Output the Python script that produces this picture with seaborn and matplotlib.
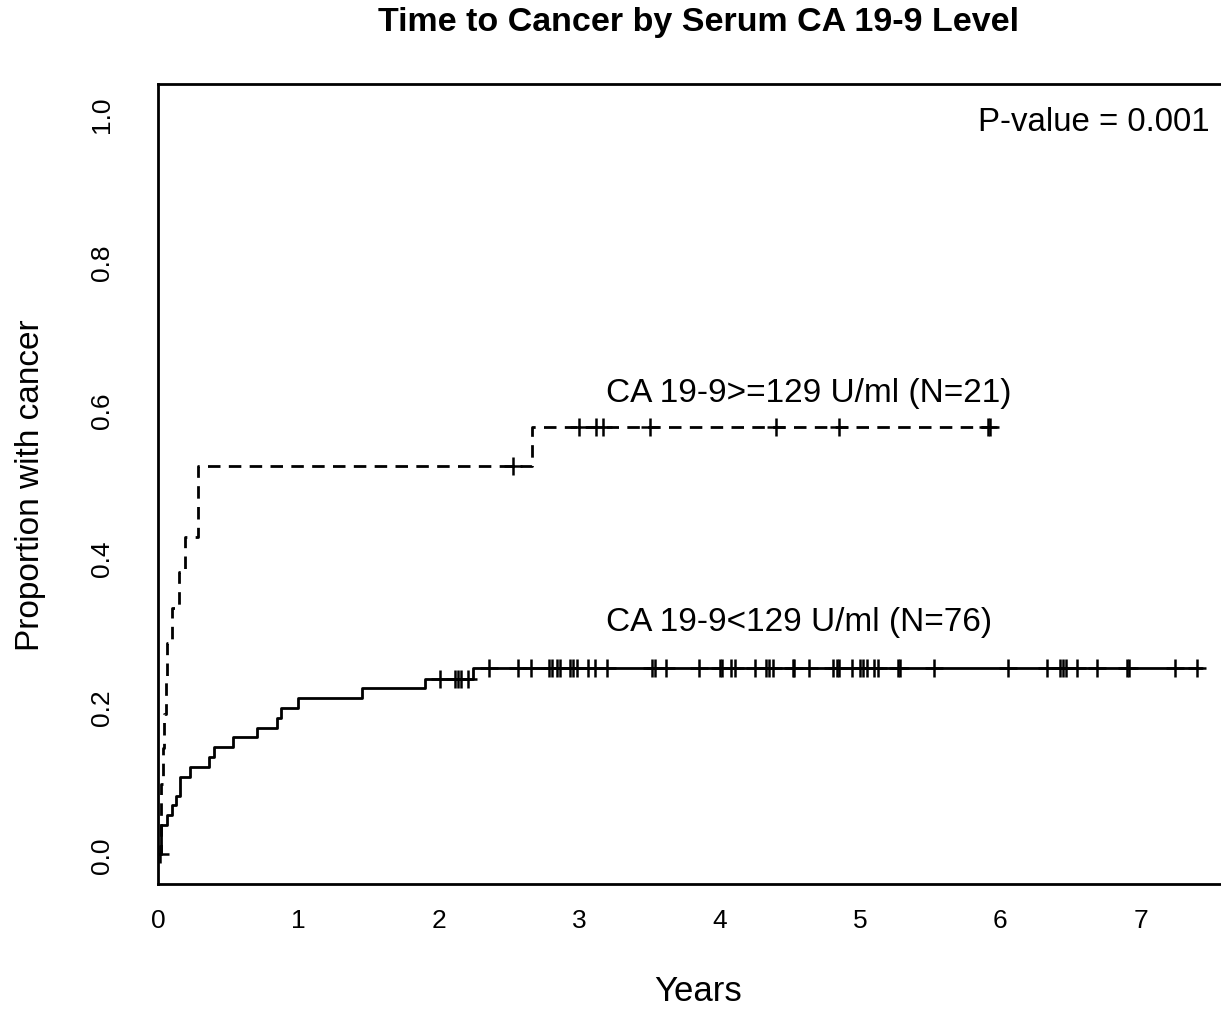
import numpy as np
import pandas as pd
import matplotlib.pyplot as plt
import seaborn as sns

# step curve for CA 19-9 < 129 U/ml (N=76)
low_times = [0, 0.02, 0.058, 0.094, 0.125, 0.153, 0.225, 0.362, 0.398, 0.533,
             0.704, 0.842, 0.871, 0.996, 1.448, 1.90, 2.244, 7.435]
low_props = [0, 0.039, 0.053, 0.066, 0.079, 0.105, 0.118, 0.132, 0.145, 0.158,
             0.171, 0.184, 0.197, 0.211, 0.224, 0.237, 0.251, 0.251]
low_censor = [0.01, 2.006, 2.113, 2.137, 2.156, 2.208, 2.358, 2.565, 2.655, 2.783,
              2.802, 2.838, 2.862, 2.933, 2.957, 2.981, 3.064, 3.111, 3.199, 3.515,
              3.539, 3.617, 3.852, 4.002, 4.014, 4.081, 4.109, 4.252, 4.330, 4.354,
              4.382, 4.520, 4.530, 4.639, 4.810, 4.834, 4.853, 4.941, 5.0, 5.024,
              5.048, 5.100, 5.131, 5.273, 5.285, 5.530, 6.057, 6.335, 6.426, 6.449,
              6.466, 6.549, 6.687, 6.901, 6.920, 7.245, 7.400]

# step curve for CA 19-9 >= 129 U/ml (N=21)
high_times = [0, 0.015, 0.02, 0.03, 0.04, 0.05, 0.06, 0.094, 0.148, 0.189, 0.284, 2.66, 5.93]
high_props = [0, 0.048, 0.095, 0.143, 0.190, 0.238, 0.286, 0.333, 0.381, 0.429, 0.524, 0.577, 0.577]
high_censor = [2.53, 3.0, 3.12, 3.17, 3.5, 4.40, 4.85, 5.91, 5.93]

x_ticks = [0, 1, 2, 3, 4, 5, 6, 7]
y_ticks = [0.0, 0.2, 0.4, 0.6, 0.8, 1.0]


def censor_frame(times, props, censor):
    # height of each censor mark = value of the step curve at that time
    idx = np.searchsorted(times, censor, side='right') - 1
    return pd.DataFrame({'t': censor, 'p': np.array(props)[idx]})


sns.set_style('white')
plt.rcParams['font.family'] = ['Liberation Sans', 'DejaVu Sans']
plt.rcParams['text.color'] = 'black'
plt.rcParams['axes.labelcolor'] = 'black'

fig = plt.figure(figsize=(12.21, 10.12), dpi=100)
ax = fig.add_axes([0.1298, 0.1255, 0.8702, 0.7905])

low_df = pd.DataFrame({'t': low_times, 'p': low_props})
high_df = pd.DataFrame({'t': high_times, 'p': high_props})

sns.lineplot(data=low_df, x='t', y='p', ax=ax, color='black', lw=2.0,
             drawstyle='steps-post', estimator=None, sort=False)
sns.lineplot(data=high_df, x='t', y='p', ax=ax, color='black', lw=2.0,
             drawstyle='steps-post', estimator=None, sort=False,
             linestyle=(0, (4.5, 3)))

for df in [censor_frame(low_times, low_props, low_censor),
           censor_frame(high_times, high_props, high_censor)]:
    sns.scatterplot(data=df, x='t', y='p', ax=ax, marker='+', s=150,
                    color='black', linewidth=1.8)

ax.text(7.495, 0.989, 'P-value = 0.001', ha='right', va='center', fontsize=23.8)
ax.text(3.19, 0.624, 'CA 19-9>=129 U/ml (N=21)', ha='left', va='center', fontsize=24)
ax.text(3.19, 0.314, 'CA 19-9<129 U/ml (N=76)', ha='left', va='center', fontsize=24)

ax.set_xlim(0, 7.573)
ax.set_ylim(-0.04, 1.04)
ax.set_xticks(x_ticks)
ax.set_xticklabels([str(v) for v in x_ticks])
ax.set_yticks(y_ticks)
ax.set_yticklabels([f'{v:.1f}' for v in y_ticks], rotation=90, va='center')
ax.tick_params(axis='both', direction='out', length=16, width=1.5, labelsize=19,
               color='black', labelcolor='black')
ax.tick_params(axis='x', pad=1)
ax.tick_params(axis='y', pad=16)

for side in ['left', 'bottom', 'top']:
    ax.spines[side].set_color('black')
    ax.spines[side].set_linewidth(2.0)
ax.spines['right'].set_visible(False)

ax.set_xlabel('Years', fontsize=25, va='center')
ax.set_ylabel('Proportion with cancer', fontsize=24, va='center')
ax.xaxis.set_label_coords((698 - 158) / (1221 - 158), -(992 - 885) / 800)
ax.yaxis.set_label_coords(-(158 - 30) / (1221 - 158), (885 - 485) / 800)

fig.text(698 / 1221, 1 - 22 / 1012, 'Time to Cancer by Serum CA 19-9 Level',
         ha='center', va='center', fontsize=24.5, fontweight='bold')

plt.savefig('out.png', dpi=100)
